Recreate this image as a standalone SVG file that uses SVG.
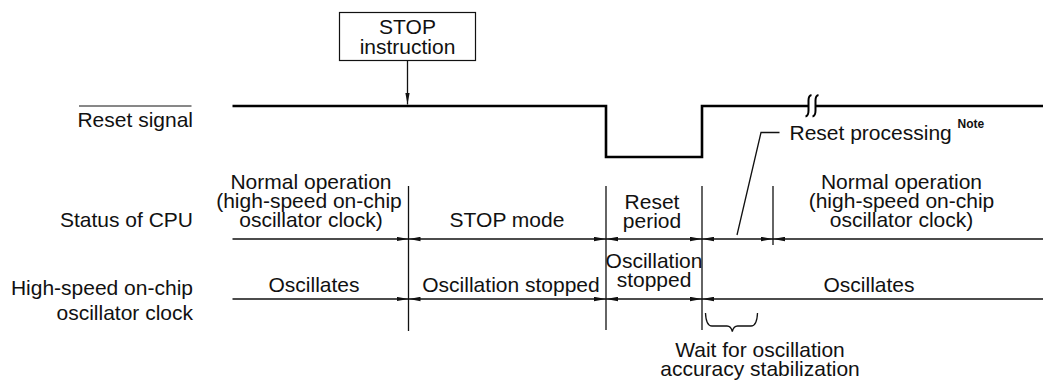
<svg xmlns="http://www.w3.org/2000/svg" width="1043" height="381" viewBox="0 0 1043 381">
<style>
text{font-family:"Liberation Sans",Arial,sans-serif;font-size:21px;fill:#111}
.m{text-anchor:middle}
.r{text-anchor:end}
.ln{stroke:#111;stroke-width:1.3;fill:none}
.dim{stroke:#111;stroke-width:1.3;fill:none;marker-end:url(#ah)}
.dim2{stroke:#111;stroke-width:1.3;fill:none;marker-start:url(#ah);marker-end:url(#ah)}
.sig{stroke:#000;stroke-width:2.6;fill:none}
.note{font-size:12px;font-weight:bold}
</style>
<defs>
<marker id="ah" viewBox="0 0 12 5" refX="12" refY="2.5" markerWidth="12" markerHeight="5" markerUnits="userSpaceOnUse" orient="auto-start-reverse">
<path d="M0,0.3 L12,2.5 L0,4.7 z" fill="#111"/>
</marker>
</defs>
<rect width="1043" height="381" fill="#fff"/>

<g id="label-reset">
<line x1="79" y1="106" x2="191.5" y2="106" stroke="#111" stroke-width="1"/>
<text x="193" y="127" class="r">Reset signal</text>
</g>
<g id="label-cpu"><text x="193" y="227" class="r">Status of CPU</text></g>
<g id="label-osc">
<text x="193" y="295" class="r">High-speed on-chip</text>
<text x="193" y="320" class="r">oscillator clock</text>
</g>

<g id="stop-instruction">
<rect x="339.5" y="12.5" width="136" height="48" fill="#fff" stroke="#111" stroke-width="1.2"/>
<text x="407.5" y="34" class="m">STOP</text>
<text x="407.5" y="54" class="m">instruction</text>
</g>

<g id="cpu-normal1">
<text x="311" y="189" class="m">Normal operation</text>
<text x="309" y="208" class="m">(high-speed on-chip</text>
<text x="311" y="227" class="m">oscillator clock)</text>
</g>
<g id="cpu-stop"><text x="507" y="227" class="m">STOP mode</text></g>
<g id="cpu-reset">
<text x="652" y="209" class="m">Reset</text>
<text x="652" y="228" class="m">period</text>
</g>
<g id="cpu-normal2">
<text x="901.5" y="189" class="m">Normal operation</text>
<text x="901.5" y="208" class="m">(high-speed on-chip</text>
<text x="901.5" y="227" class="m">oscillator clock)</text>
</g>
<g id="osc-1"><text x="314" y="291.5" class="m">Oscillates</text></g>
<g id="osc-2"><text x="511" y="291.5" class="m">Oscillation stopped</text></g>
<g id="osc-3">
<text x="654" y="268" class="m">Oscillation</text>
<text x="654" y="287" class="m">stopped</text>
</g>
<g id="osc-4"><text x="869" y="291.5" class="m">Oscillates</text></g>
<g id="reset-processing">
<text x="789.5" y="140">Reset processing</text>
<text x="957.5" y="128" class="note">Note</text>
</g>
<g id="wait-label">
<text x="760" y="356.5" class="m">Wait for oscillation</text>
<text x="760" y="376" class="m">accuracy stabilization</text>
</g>

<g id="connectors">
<!-- reset signal waveform -->
<path class="sig" d="M232.5,106 H606 V157 H702 V106 H808.5"/>
<path class="sig" d="M815,106 H1043"/>
<path d="M811.5,95 Q808.5,95.5 808.5,100.5 L808.5,110.5 Q808.5,116 805.5,116.5 M818.5,95 Q815.5,95.5 815.5,100.5 L815.5,110.5 Q815.5,116 812.5,116.5" stroke="#000" stroke-width="2" fill="none"/>
<!-- STOP arrow -->
<line class="dim" x1="407.5" y1="60.5" x2="407.5" y2="104.5"/>
<!-- vertical boundaries -->
<line class="ln" x1="408.5" y1="186" x2="408.5" y2="331"/>
<line class="ln" x1="606" y1="186" x2="606" y2="330"/>
<line class="ln" x1="702" y1="186" x2="702" y2="330"/>
<line class="ln" x1="773" y1="186" x2="773" y2="245"/>
<!-- CPU row -->
<line class="dim" x1="232.5" y1="239" x2="408.5" y2="239"/>
<line class="dim2" x1="408.5" y1="239" x2="606" y2="239"/>
<line class="dim2" x1="606" y1="239" x2="702" y2="239"/>
<line class="dim2" x1="702" y1="239" x2="773" y2="239"/>
<line class="dim" x1="1043" y1="239" x2="773" y2="239"/>
<!-- oscillator row -->
<line class="dim" x1="232.5" y1="299" x2="408.5" y2="299"/>
<line class="dim2" x1="408.5" y1="299" x2="606" y2="299"/>
<line class="dim2" x1="606" y1="299" x2="702" y2="299"/>
<line class="dim" x1="1043" y1="299" x2="702" y2="299"/>
<!-- reset processing leader -->
<path class="ln" d="M779.5,132.5 H761 L737,235"/>
<!-- brace -->
<path class="ln" d="M705.5,313 Q706,326 712,326 L727,326 Q731,326 732.3,331.5 Q733.6,326 737.6,326 L751,326 Q757,326 757.5,313"/>
</g>
</svg>
